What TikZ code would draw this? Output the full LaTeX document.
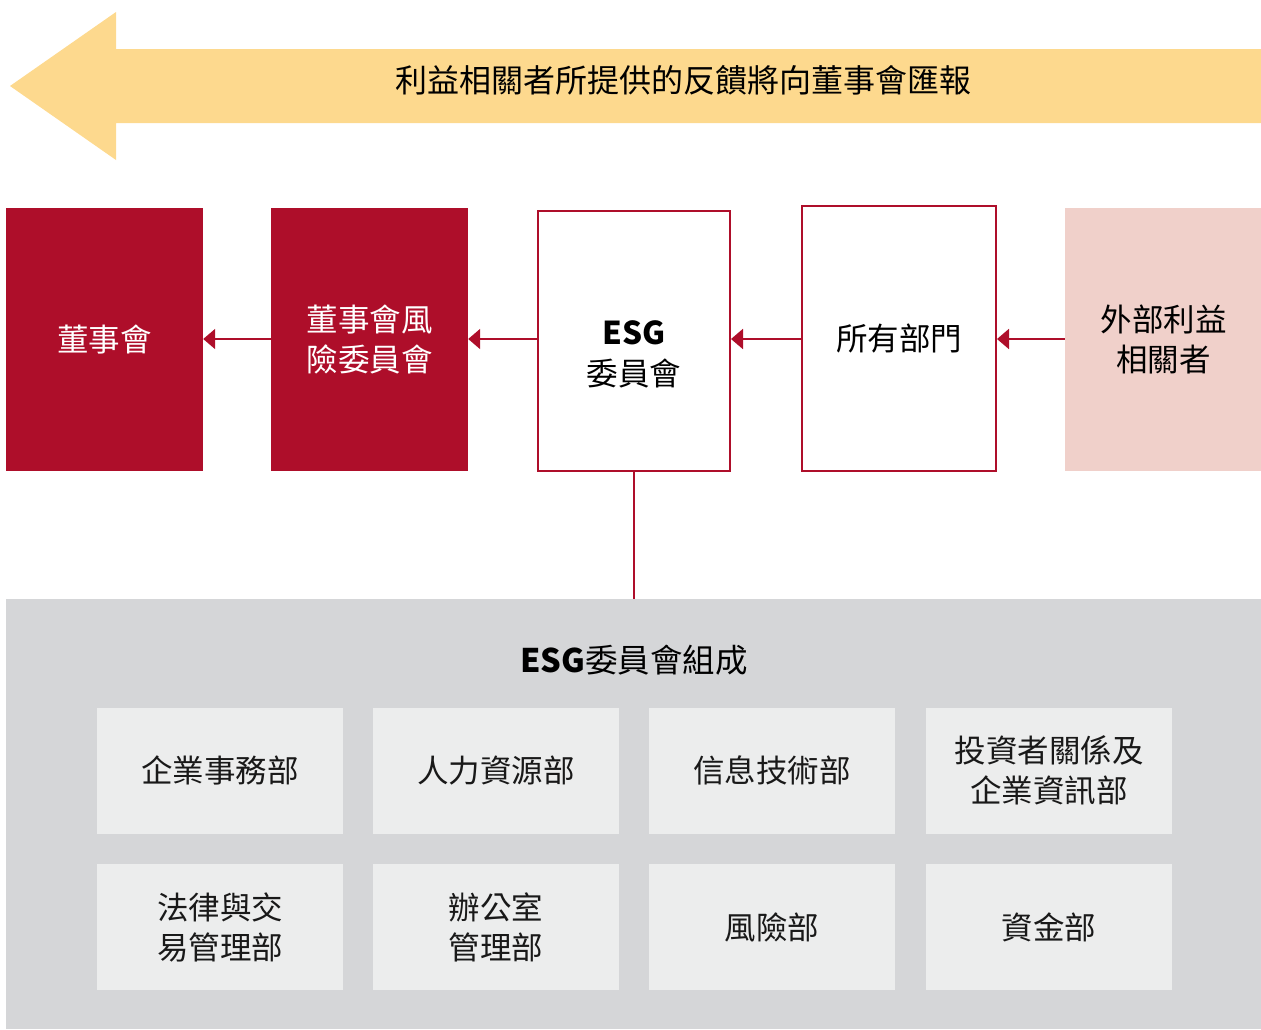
\documentclass[tikz,border=0pt]{standalone}
\usepackage{fontspec}
\setmainfont{Noto Sans CJK TC}
\usetikzlibrary{arrows.meta}

\definecolor{esgred}{RGB}{174,14,42}
\definecolor{esgpink}{RGB}{240,208,202}
\definecolor{esgyellow}{RGB}{253,217,142}
\definecolor{esggray}{RGB}{213,214,216}
\definecolor{esglight}{RGB}{236,237,237}

\begin{document}
\begin{tikzpicture}[x=1pt,y=-1pt,
    redbox/.style={draw=none,fill=esgred,text=white,minimum width=197pt,minimum height=263pt,font=\fontsize{31.5}{40}\selectfont,align=center,inner sep=0pt},
    openbox/.style={draw=esgred,line width=2pt,fill=white,minimum height=260pt,font=\fontsize{31.5}{41}\selectfont,align=center,inner sep=0pt},
    unitbox/.style={fill=esglight,minimum width=246pt,minimum height=126pt,font=\fontsize{31.5}{40}\selectfont,align=center,inner sep=0pt,text=black!90},
    feed/.style={draw=esgred,line width=2pt,-{Triangle[length=12pt,width=20pt]}}]
  \useasboundingbox (0,0) rectangle (1261,1029);

  % feedback arrow
  \fill[esgyellow] (10,86) -- (116,12) -- (116,49) -- (1261,49) -- (1261,123) -- (116,123) -- (116,160) -- cycle;
  \node (feedback) at (683,80) {\fontsize{32}{38}\selectfont 利益相關者所提供的反饋將向董事會匯報};

  % top row
  \node[redbox] (board) at (104.5,339.5) {董事會};
  \node[redbox] (riskcom) at (369.5,339.5) {董事會風\\險委員會};
  \node[openbox,minimum width=192pt] (esgcom) at (634,341) {};
  \node (esgtext) at (634,357) {\fontsize{31.5}{41}\selectfont\begin{tabular}{@{}c@{}}\textbf{ESG}\\委員會\end{tabular}};
  \node[openbox,minimum width=194pt,minimum height=265pt] (alldept) at (899,338.5) {所有部門};
  \node[redbox,fill=esgpink,text=black] (external) at (1163.5,339.5) {外部利益\\相關者};

  \draw[feed] (external.west |- 0,339) -- (alldept.east |- 0,339);
  \draw[feed] (alldept.west |- 0,339) -- (esgcom.east |- 0,339);
  \draw[feed] (esgcom.west |- 0,339) -- (riskcom.east |- 0,339);
  \draw[feed] (riskcom.west |- 0,339) -- (board.east |- 0,339);

  % members panel
  \fill[esggray] (6,599) rectangle (1261,1029);
  \coordinate (paneltop) at (esgcom.south |- 0,599);
  \draw[esgred,line width=2pt] (esgcom.south) -- (paneltop);
  \node (members) at (634,660) {\fontsize{32.5}{38}\selectfont\textbf{ESG}委員會組成};

  \foreach \name/\x/\y/\txt in {corp/220/770.5/企業事務部,hr/496/770.5/人力資源部,it/772/770.5/信息技術部,ir/1049/770.5/{投資者關係及\\企業資訊部},
      legal/220/927/{法律與交\\易管理部},office/496/927/{辦公室\\管理部},risk/772/927/風險部,fund/1049/927/資金部}{
    \node[unitbox] (\name) at (\x,\y) {\txt};
  }
\end{tikzpicture}
\end{document}
